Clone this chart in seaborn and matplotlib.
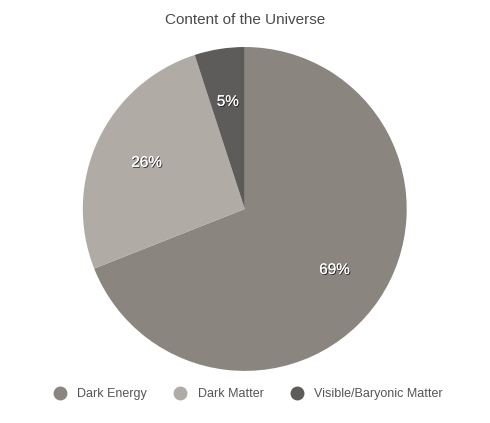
import matplotlib
matplotlib.use("Agg")
import matplotlib.pyplot as plt
import matplotlib.patheffects as pe
from matplotlib.lines import Line2D
import seaborn as sns

# data
labels = ["Dark Energy", "Dark Matter", "Visible/Baryonic Matter"]
shares = [69, 26, 5]
colors = ["#8a857e", "#b1aba5", "#5e5c5b"]

sns.set_theme(style="white")
plt.rcParams["font.family"] = ["Liberation Sans", "DejaVu Sans"]

fig = plt.figure(figsize=(4.9, 4.23), dpi=100)
ax = fig.add_axes([0.169, 0.123, 0.661, 0.766])

wedges, texts, autotexts = ax.pie(
    shares,
    colors=colors,
    startangle=90,
    counterclock=False,
    autopct="%d%%",
    pctdistance=0.67,
    wedgeprops={"linewidth": 0},
)
for t in autotexts:
    t.set_color("white")
    t.set_fontsize(11)
    t.set_path_effects([pe.withSimplePatchShadow(offset=(0.7, -0.7), shadow_rgbFace="#222222", alpha=0.9),
                        pe.Normal()])
ax.set_xlim(-1, 1)
ax.set_ylim(-1, 1)
ax.set_aspect("equal")

fig.text(0.5, 0.952, "Content of the Universe", ha="center", va="center",
         fontsize=11, color="#4a4a4a")

handles = [Line2D([], [], marker="o", linestyle="", markersize=9,
                  markerfacecolor=c, markeredgecolor=c) for c in colors]
fig.legend(handles, labels, loc="center", bbox_to_anchor=(0.5, 0.068), ncol=3,
           frameon=False, fontsize=9, handletextpad=0.4, columnspacing=1.65,
           labelcolor="#555555")

plt.savefig("out.png", dpi=100)
